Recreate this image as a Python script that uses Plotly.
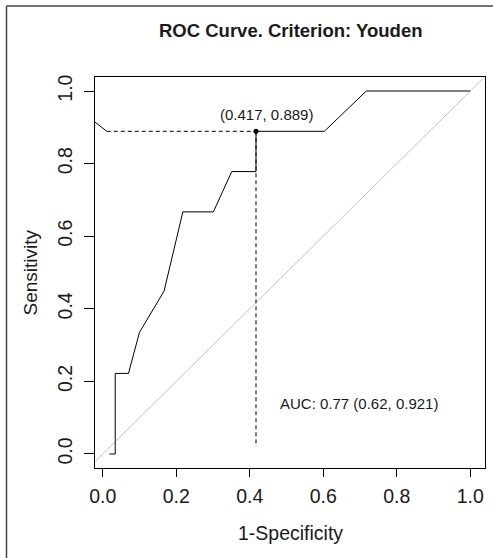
import plotly.graph_objects as go

# ROC curve points (1-Specificity, Sensitivity)
fpr = [0.018, 0.034, 0.034, 0.07, 0.1, 0.167, 0.218, 0.301, 0.351, 0.417, 0.417, 0.603, 0.717, 1.0]
tpr = [0.0, 0.0, 0.222, 0.222, 0.335, 0.449, 0.667, 0.667, 0.778, 0.778, 0.889, 0.889, 1.0, 1.0]

# short segment at top left of the curve
lead_x = [-0.022, 0.011]
lead_y = [0.915, 0.889]

# Youden threshold
thr_x = 0.417
thr_y = 0.889
thr_floor = 0.02
thr_start = 0.011

tick_vals = [0.0, 0.2, 0.4, 0.6, 0.8, 1.0]
tick_text = ["0.0", "0.2", "0.4", "0.6", "0.8", "1.0"]

title_text = "ROC Curve. Criterion: Youden"
thr_label = "(0.417, 0.889)"
auc_label = "AUC: 0.77 (0.62, 0.921)"

FONT = "Liberation Sans, Arial, sans-serif"
TXT = "#1a1a1a"

fig = go.Figure()

# diagonal reference line
fig.add_trace(go.Scatter(x=[-0.1, 1.1], y=[-0.1, 1.1], mode="lines",
                         line=dict(color="#c4c4c4", width=1), hoverinfo="skip"))
# dashed threshold lines
fig.add_trace(go.Scatter(x=[thr_start, thr_x], y=[thr_y, thr_y], mode="lines",
                         line=dict(color="black", width=1, dash="4px,3px"), hoverinfo="skip"))
fig.add_trace(go.Scatter(x=[thr_x, thr_x], y=[thr_y, thr_floor], mode="lines",
                         line=dict(color="black", width=1, dash="4px,3px"), hoverinfo="skip"))
# ROC curve
fig.add_trace(go.Scatter(x=fpr, y=tpr, mode="lines",
                         line=dict(color="black", width=1)))
fig.add_trace(go.Scatter(x=lead_x, y=lead_y, mode="lines",
                         line=dict(color="black", width=1)))
# threshold point
fig.add_trace(go.Scatter(x=[thr_x], y=[thr_y], mode="markers",
                         marker=dict(color="black", size=5)))

fig.add_annotation(x=0.446, y=0.934, xref="x", yref="y", text=thr_label, showarrow=False,
                   font=dict(family=FONT, size=15, color=TXT), xanchor="center", yanchor="middle")
fig.add_annotation(x=0.476, y=0.139, xref="x", yref="y", text=auc_label, showarrow=False,
                   font=dict(family=FONT, size=15, color=TXT), xanchor="left", yanchor="middle")

# title
fig.add_annotation(x=0.5, y=(468 - 30) / 391, xref="paper", yref="paper", text="<b>" + title_text + "</b>",
                   showarrow=False, font=dict(family=FONT, size=18.5, color=TXT),
                   xanchor="center", yanchor="middle")
# axis titles
fig.add_annotation(x=0.5, y=(468 - 533) / 391, xref="paper", yref="paper", text="1-Specificity",
                   showarrow=False, font=dict(family=FONT, size=19.5, color=TXT),
                   xanchor="center", yanchor="middle")
fig.add_annotation(x=(30 - 95) / 390, y=0.5, xref="paper", yref="paper", text="Sensitivity",
                   showarrow=False, textangle=-90, font=dict(family=FONT, size=19, color=TXT),
                   xanchor="center", yanchor="middle")

# outer frame (left and top edges visible)
fig.add_shape(type="line", xref="paper", yref="paper",
              x0=(6.5 - 95) / 390, x1=(6.5 - 95) / 390, y0=-0.3, y1=(468 - 6) / 391,
              line=dict(color="#444", width=1.5))
fig.add_shape(type="line", xref="paper", yref="paper",
              x0=(6.5 - 95) / 390, x1=1.1, y0=(468 - 6) / 391, y1=(468 - 6) / 391,
              line=dict(color="#444", width=1.5))

fig.update_layout(
    width=493, height=558, autosize=False,
    margin=dict(l=95, r=8, t=77, b=90),
    paper_bgcolor="white", plot_bgcolor="white",
    showlegend=False,
    font=dict(family=FONT, color=TXT),
)
fig.update_xaxes(range=[-0.021, 1.04], tickvals=tick_vals, ticktext=tick_text,
                 ticks="outside", ticklen=8, tickcolor="black", tickwidth=1, ticklabelstandoff=3,
                 showline=True, mirror=True, linecolor="black", linewidth=1,
                 showgrid=False, zeroline=False, tickfont=dict(size=19.5, family=FONT, color=TXT))
fig.update_yaxes(range=[-0.0386, 1.0386], tickvals=tick_vals, ticktext=tick_text,
                 ticks="outside", ticklen=10, tickcolor="black", tickwidth=1, tickangle=-90,
                 ticklabelstandoff=4,
                 showline=True, mirror=True, linecolor="black", linewidth=1,
                 showgrid=False, zeroline=False, tickfont=dict(size=19.5, family=FONT, color=TXT))

fig.write_html("out.html", config={"displayModeBar": False},
               post_script="document.body.style.margin='0';document.body.style.overflow='hidden';")
